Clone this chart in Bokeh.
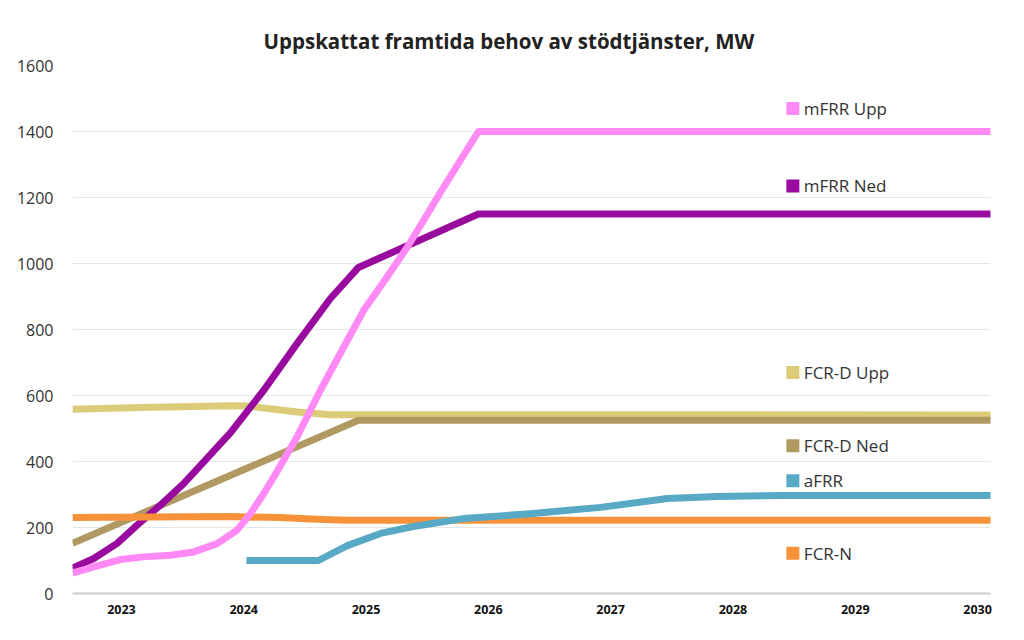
from bokeh.plotting import figure
from bokeh.models import ColumnDataSource, FixedTicker, Range1d
from bokeh.core.properties import value
from bokeh.embed import file_html
from bokeh.resources import INLINE

FONT = "Open Sans"

years = [2023, 2024, 2025, 2026, 2027, 2028, 2029, 2030]
y_ticks = [0, 200, 400, 600, 800, 1000, 1200, 1400, 1600]

# values, x in fractional years
mfrr_upp_x = [2022.6, 2022.774, 2022.992, 2023.182, 2023.401, 2023.591, 2023.783, 2023.946,
              2024.055, 2024.164, 2024.273, 2024.437, 2024.627, 2024.818, 2024.981, 2025.145,
              2025.339, 2025.608, 2025.919, 2030.11]
mfrr_upp_y = [62, 81, 103, 111, 116, 126, 151, 192, 242, 303, 370, 475, 616, 747, 858, 945,
              1050, 1215, 1400, 1400]

mfrr_ned_x = [2022.6, 2022.774, 2022.965, 2023.128, 2023.319, 2023.509, 2023.673, 2023.836,
              2023.891, 2024.164, 2024.437, 2024.709, 2024.938, 2025.919, 2030.11]
mfrr_ned_y = [77, 106, 152, 207, 268, 333, 399, 465, 487, 616, 758, 894, 988, 1150, 1150]

fcrd_upp_x = [2022.6, 2023.16, 2023.89, 2024.05, 2024.16, 2024.44, 2024.71, 2030.11]
fcrd_upp_y = [558, 564, 569, 568, 562, 550, 542, 541]

fcrd_ned_x = [2022.6, 2024.938, 2030.11]
fcrd_ned_y = [152, 525, 525]

fcrn_x = [2022.6, 2023.89, 2024.29, 2024.55, 2024.84, 2030.11]
fcrn_y = [230, 233, 230, 226, 222, 222]

afrr_x = [2024.022, 2024.611, 2024.709, 2024.848, 2025.118, 2025.388, 2025.796, 2026.099,
          2026.344, 2026.917, 2027.464, 2027.873, 2028.413, 2030.11]
afrr_y = [100, 100, 119, 145, 182, 203, 227, 235, 242, 261, 288, 294, 297, 297]

series = [
    ("FCR-D Upp", fcrd_upp_x, fcrd_upp_y, "#dccb78"),
    ("FCR-D Ned", fcrd_ned_x, fcrd_ned_y, "#b09a62"),
    ("mFRR Ned", mfrr_ned_x, mfrr_ned_y, "#990a9e"),
    ("FCR-N", fcrn_x, fcrn_y, "#f7923a"),
    ("mFRR Upp", mfrr_upp_x, mfrr_upp_y, "#ff8af5"),
    ("aFRR", afrr_x, afrr_y, "#58a9c6"),
]

# label positions beside the lines
legend_names = ["mFRR Upp", "mFRR Ned", "FCR-D Upp", "FCR-D Ned", "aFRR", "FCR-N"]
legend_y = [1470, 1235, 670, 448, 342, 122]
legend_colors = ["#ff8af5", "#990a9e", "#dccb78", "#b09a62", "#58a9c6", "#f7923a"]
legend_x = 2028.49

p = figure(width=1016, height=632, output_backend="svg", toolbar_location=None,
           x_range=Range1d(2022.6, 2030.106), y_range=Range1d(0, 1600),
           min_border_left=72, min_border_right=26, min_border_top=65, min_border_bottom=39)

p.title.text = "Uppskattat framtida behov av stödtjänster, MW"
p.title.align = "left"
p.title.offset = 185
p.title.padding = 6
p.title.text_font = FONT
p.title.text_font_size = "20.5px"
p.title.text_font_style = "bold"
p.title.text_color = "#222222"

p.outline_line_color = None
p.background_fill_color = "white"
p.border_fill_color = "white"

for name, xs, ys, color in series:
    src = ColumnDataSource(data={"x": xs, "y": ys})
    p.line("x", "y", source=src, line_width=7, line_color=color, line_join="round")

leg = ColumnDataSource(data={"x": [legend_x] * len(legend_names), "y": legend_y,
                             "name": legend_names, "color": legend_colors})
p.scatter("x", "y", source=leg, marker="square", size=13, fill_color="color",
          line_color=None)
p.text("x", "y", text="name", source=leg, x_offset=11, text_baseline="middle",
       text_align="left", text_font=value(FONT), text_font_size="17px", text_color="#333333")

p.xgrid.grid_line_color = None
p.ygrid.grid_line_color = "#e6e6e6"
p.ygrid.grid_line_width = 1

p.yaxis.ticker = FixedTicker(ticks=y_ticks)
p.yaxis.axis_line_color = None
p.yaxis.major_tick_line_color = None
p.yaxis.minor_tick_line_color = None
p.yaxis.major_tick_out = 0
p.yaxis.major_label_standoff = 19
p.yaxis.major_label_text_font = FONT
p.yaxis.major_label_text_font_size = "16px"
p.yaxis.major_label_text_color = "#333333"

p.xaxis.ticker = FixedTicker(ticks=years)
p.xaxis.major_label_overrides = {y: str(y) for y in years}
p.xaxis.axis_line_color = "#cccccc"
p.xaxis.axis_line_width = 2
p.xaxis.major_tick_line_color = None
p.xaxis.minor_tick_line_color = None
p.xaxis.major_tick_out = 0
p.xaxis.major_label_standoff = 11
p.xaxis.major_label_text_font = FONT
p.xaxis.major_label_text_font_size = "12.5px"
p.xaxis.major_label_text_font_style = "bold"
p.xaxis.major_label_text_color = "#111111"

open("out.html", "w").write(file_html(p, INLINE))
